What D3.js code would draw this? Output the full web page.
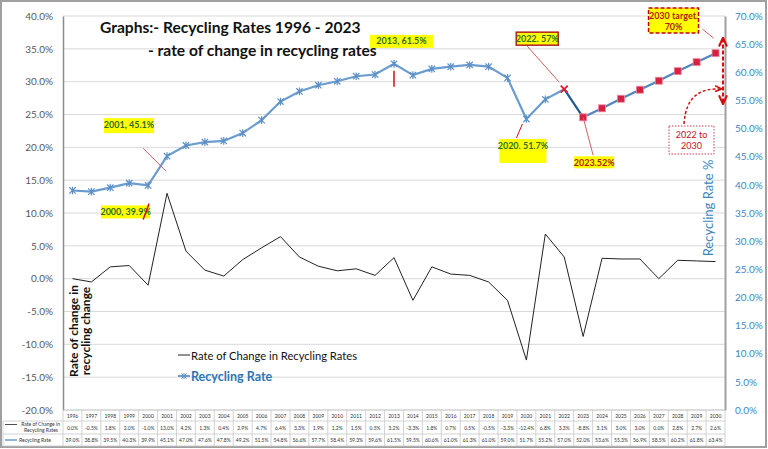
<!DOCTYPE html>
<html>
<head>
<meta charset="utf-8">
<script src="https://cdn.jsdelivr.net/npm/d3@7"></script>
<style>
  body { margin: 0; background: #fff; }
  svg { display: block; font-family: Lato, "Noto Sans", sans-serif; }
</style>
</head>
<body>
<svg id="chart" width="768" height="449"></svg>
<script>
const svg = d3.select('#chart');
const width = 768;
const height = 449;

// Data
const years = d3.range(1996, 2031);
const rateOfChange = [0.0, -0.5, 1.8, 2.0, -1.0, 13.0, 4.2, 1.3, 0.4, 2.9, 4.7, 6.4, 3.3, 1.9, 1.2, 1.5, 0.5, 3.2,
  -3.3, 1.8, 0.7, 0.5, -0.5, -3.3, -12.4, 6.8, 3.3, -8.8, 3.1, 3.0, 3.0, 0.0, 2.8, 2.7, 2.6];
const recyclingRate = [39.0, 38.8, 39.5, 40.3, 39.9, 45.1, 47.0, 47.6, 47.8, 49.2, 51.5, 54.8, 56.6, 57.7, 58.4,
  59.3, 59.6, 61.5, 59.5, 60.6, 61.0, 61.3, 61.0, 59.0, 51.7, 55.2, 57.0, 52.0, 53.6, 55.3, 56.9, 58.5, 60.2, 61.8, 63.4];
const leftTicks = d3.range(-20, 40.1, 5);
const rightTicks = d3.range(0, 70.1, 5);

// callouts: year, label, box offset from the point
const callouts = [
  { year: 2013, label: '2013, 61.5%', bx: -24, by: -29, w: 63, h: 13, color: '#2f6b2f' },
  { year: 2001, label: '2001, 45.1%', bx: -63, by: -38, w: 50, h: 15, color: '#2f6b2f' },
  { year: 2000, label: '2000, 39.9%', bx: -47, by: 20, w: 49, h: 13, color: '#2f6b2f' },
  { year: 2020, label: '2020. 51.7%', bx: -27, by: 20, w: 47, h: 24, color: '#2f6b2f' },
  { year: 2022, label: '2022. 57%', bx: -48, by: -57, w: 42, h: 13, color: '#2f6b2f', border: '#b02020' },
  { year: 2023, label: '2023.52%', bx: -9, by: 39, w: 40, h: 12, color: '#b01818' },
];

const plot = { left: 63, right: 725, top: 16, bottom: 410 };

const x = d3.scaleBand().domain(years).range([plot.left, plot.right]).padding(0);
const cx = (yr) => x(yr) + x.bandwidth() / 2;
const yL = d3.scaleLinear().domain([-20, 40]).range([plot.bottom, plot.top]);
const yR = d3.scaleLinear().domain([0, 70]).range([plot.bottom, plot.top]);

// outer frame
svg.append('rect').attr('x', 1).attr('y', 1).attr('width', width - 3).attr('height', height - 3)
  .attr('fill', 'none').attr('stroke', '#a0a0a0').attr('stroke-width', 2);

// gridlines
svg.append('g').selectAll('line').data(leftTicks).join('line')
  .attr('x1', plot.left).attr('x2', plot.right)
  .attr('y1', (d) => yL(d)).attr('y2', (d) => yL(d))
  .attr('stroke', '#d9d9d9').attr('stroke-width', 1);

// left axis
const gL = svg.append('g').attr('transform', `translate(${plot.left},0)`)
  .call(d3.axisLeft(yL).tickValues(leftTicks).tickSize(0).tickPadding(10).tickFormat((d) => d.toFixed(1) + '%'));
gL.select('.domain').attr('stroke', '#8c8c8c').attr('stroke-width', 1.5);
gL.selectAll('text').attr('fill', '#595959').attr('font-size', 10).attr('font-family', 'Lato, sans-serif');

// right axis
const gR = svg.append('g').attr('transform', `translate(${plot.right},0)`)
  .call(d3.axisRight(yR).tickValues(rightTicks).tickSize(0).tickPadding(10).tickFormat((d) => d.toFixed(1) + '%'));
gR.select('.domain').attr('stroke', '#a0a0a0').attr('stroke-width', 2);
gR.selectAll('text').attr('fill', '#3d87c0').attr('font-size', 10).attr('font-family', 'Lato, sans-serif');

// axis titles
svg.append('text').attr('transform', `translate(78,${331}) rotate(-90)`)
  .attr('text-anchor', 'middle').attr('font-size', 12).attr('font-weight', 'bold').attr('fill', '#111')
  .selectAll('tspan').data(['Rate of change in', 'recycling change']).join('tspan')
  .attr('x', 0).attr('dy', (d, i) => (i ? 12 : 0)).text((d) => d);
svg.append('text').attr('transform', `translate(713,208) rotate(-90)`)
  .attr('text-anchor', 'middle').attr('font-size', 13).attr('fill', '#3d87c0').text('Recycling Rate %');

// rate of change line
svg.append('path').datum(rateOfChange)
  .attr('d', d3.line().x((d, i) => cx(years[i])).y((d) => yL(d)))
  .attr('fill', 'none').attr('stroke', '#222').attr('stroke-width', 1);

// recycling rate line: history, 2022-23 drop, projection
const idx2022 = years.indexOf(2022);
const idx2023 = years.indexOf(2023);
const rrLine = d3.line().x((d) => cx(d.year)).y((d) => yR(d.v));
const rr = years.map((year, i) => ({ year, v: recyclingRate[i] }));
svg.append('path').datum(rr.slice(0, idx2022 + 1)).attr('d', rrLine)
  .attr('fill', 'none').attr('stroke', '#6a9ccf').attr('stroke-width', 2.2);
svg.append('path').datum(rr.slice(idx2022, idx2023 + 1)).attr('d', rrLine)
  .attr('fill', 'none').attr('stroke', '#1f5a96').attr('stroke-width', 2.2);
svg.append('path').datum(rr.slice(idx2023)).attr('d', rrLine)
  .attr('fill', 'none').attr('stroke', '#4f86c0').attr('stroke-width', 2.2);

const star = (r) => `M${-r},${-r}L${r},${r}M${-r},${r}L${r},${-r}M0,${-r * 1.2}L0,${r * 1.2}`;
svg.append('g').selectAll('path').data(rr.slice(0, idx2022)).join('path')
  .attr('transform', (d) => `translate(${cx(d.year)},${yR(d.v)})`)
  .attr('d', star(3.2)).attr('stroke', '#5b8fc6').attr('stroke-width', 1.2).attr('fill', 'none');
svg.append('path').datum(rr[idx2022])
  .attr('transform', (d) => `translate(${cx(d.year)},${yR(d.v)})`)
  .attr('d', 'M-3.5,-3.5L3.5,3.5M-3.5,3.5L3.5,-3.5').attr('stroke', '#e0202f').attr('stroke-width', 1.8);
svg.append('g').selectAll('rect').data(rr.slice(idx2023)).join('rect')
  .attr('x', (d) => cx(d.year) - 3.5).attr('y', (d) => yR(d.v) - 3.5)
  .attr('width', 7).attr('height', 7)
  .attr('fill', '#d42240').attr('stroke', '#f08aa0').attr('stroke-width', 0.8);

// title
svg.append('text').attr('x', 100).attr('y', 33).attr('font-size', 15.6).attr('font-weight', 'bold')
  .attr('fill', '#111').text('Graphs:- Recycling Rates 1996 - 2023');
svg.append('text').attr('x', 148).attr('y', 56).attr('font-size', 15.6).attr('font-weight', 'bold')
  .attr('fill', '#111').text('- rate of change in recycling rates');

// callouts
const cg = svg.append('g');
callouts.forEach((c) => {
  const i = years.indexOf(c.year);
  const px = cx(c.year);
  const py = yR(recyclingRate[i]);
  const bx = px + c.bx;
  const by = py + c.by;
  cg.append('rect').attr('x', bx).attr('y', by).attr('width', c.w).attr('height', c.h)
    .attr('fill', '#ffff00').attr('stroke', c.border || 'none').attr('stroke-width', 1.5);
  cg.append('text').attr('x', bx + c.w / 2).attr('y', by + 9.5).attr('text-anchor', 'middle')
    .attr('font-size', 9).attr('font-weight', 'bold').attr('fill', c.color).text(c.label);
});

// leader lines: year, x/y offsets of both ends from the point
const leaders = [
  [2013, 0, 7, 0, 23],
  [2001, -24, -8, -1, 15],
  [2000, 1, 18, -5, 34],
  [2020, -4, 5, -10, 19],
  [2022, -37, -43, -5, -7],
  [2023, 0, 0, 10, 38],
  [2030, -13, -24, -2, -15],
];
svg.append('g').selectAll('line').data(leaders).join('line')
  .attr('x1', (d) => cx(d[0]) + d[1]).attr('y1', (d) => yR(recyclingRate[years.indexOf(d[0])]) + d[2])
  .attr('x2', (d) => cx(d[0]) + d[3]).attr('y2', (d) => yR(recyclingRate[years.indexOf(d[0])]) + d[4])
  .attr('stroke', (d) => (d[0] === 2013 || d[0] === 2000 || d[0] === 2020 ? '#d01010' : '#d06060'))
  .attr('stroke-width', (d) => (d[0] === 2013 || d[0] === 2000 ? 1.5 : 1));

// 2030 target box
const tx = cx(2030) - 67;
const ty = 8;
svg.append('rect').attr('x', tx).attr('y', ty).attr('width', 50).attr('height', 25)
  .attr('fill', '#ffff00').attr('stroke', '#c00000').attr('stroke-width', 1.5).attr('stroke-dasharray', '4,2');
svg.append('text').attr('x', tx + 25).attr('y', ty + 10.5).attr('text-anchor', 'middle')
  .attr('font-size', 9).attr('font-weight', 'bold').attr('fill', '#b01818').text('2030 target.');
svg.append('text').attr('x', tx + 25).attr('y', ty + 21.5).attr('text-anchor', 'middle')
  .attr('font-size', 9).attr('font-weight', 'bold').attr('fill', '#b01818').text('70%');

// 2022 -> 2030 arrows
const defs = svg.append('defs');
defs.append('marker').attr('id', 'ah').attr('viewBox', '0 0 10 10').attr('refX', 8).attr('refY', 5)
  .attr('markerWidth', 5).attr('markerHeight', 5).attr('orient', 'auto-start-reverse')
  .append('path').attr('d', 'M0,1L9,5L0,9').attr('fill', 'none').attr('stroke', '#d01010').attr('stroke-width', 2);
svg.append('line').attr('x1', 723).attr('x2', 723).attr('y1', yR(66)).attr('y2', yR(54.5))
  .attr('stroke', '#d01010').attr('stroke-width', 2).attr('stroke-dasharray', '4,2')
  .attr('marker-start', 'url(#ah)').attr('marker-end', 'url(#ah)');
svg.append('path').attr('d', `M684,124 C686,96 700,88 721,89`)
  .attr('fill', 'none').attr('stroke', '#d01010').attr('stroke-width', 1.5).attr('stroke-dasharray', '3,2')
  .attr('marker-end', 'url(#ah)');
svg.append('rect').attr('x', 669).attr('y', 126).attr('width', 45).attr('height', 28)
  .attr('fill', '#fff').attr('stroke', '#d04050').attr('stroke-width', 1).attr('stroke-dasharray', '1.5,1.5');
svg.append('text').attr('x', 691.5).attr('y', 138).attr('text-anchor', 'middle')
  .attr('font-size', 9).attr('fill', '#c01020').text('2022 to');
svg.append('text').attr('x', 691.5).attr('y', 149).attr('text-anchor', 'middle')
  .attr('font-size', 9).attr('fill', '#c01020').text('2030');

// legend
const lg = svg.append('g').attr('transform', 'translate(178,355)');
lg.append('line').attr('x1', 0).attr('x2', 12).attr('stroke', '#222').attr('stroke-width', 1);
lg.append('text').attr('x', 13).attr('y', 4.5).attr('font-size', 11.2).attr('fill', '#111')
  .text('Rate of Change in Recycling Rates');
lg.append('line').attr('x1', 0).attr('x2', 12).attr('y1', 21).attr('y2', 21).attr('stroke', '#6a9ccf').attr('stroke-width', 2);
lg.append('path').attr('transform', 'translate(6,21)').attr('d', star(2.5)).attr('stroke', '#5b8fc6').attr('fill', 'none');
lg.append('text').attr('x', 13).attr('y', 25.5).attr('font-size', 12.5).attr('font-weight', 'bold')
  .attr('fill', '#2e75b6').text('Recycling Rate');

// data table
const rows = [
  { y0: 410, y1: 421 },
  { y0: 421, y1: 434 },
  { y0: 434, y1: 446 },
];
const tg = svg.append('g').attr('font-family', 'Lato, sans-serif');
tg.selectAll('line.h').data([410, 421, 434, 446]).join('line').attr('class', 'h')
  .attr('x1', (d, i) => (i === 0 ? plot.left : 3)).attr('x2', plot.right)
  .attr('y1', (d) => d).attr('y2', (d) => d).attr('stroke', '#c8c8c8').attr('stroke-width', 0.8);
tg.selectAll('line.v').data(years.concat([2031])).join('line').attr('class', 'v')
  .attr('x1', (d) => (d === 2031 ? plot.right : x(d))).attr('x2', (d) => (d === 2031 ? plot.right : x(d)))
  .attr('y1', 410).attr('y2', 446).attr('stroke', '#c8c8c8').attr('stroke-width', 0.8);
tg.append('line').attr('x1', 3).attr('x2', 3).attr('y1', 421).attr('y2', 446).attr('stroke', '#c8c8c8').attr('stroke-width', 0.8);
const rowVals = [years.map(String), rateOfChange.map((d) => d.toFixed(1) + '%'), recyclingRate.map((d) => d.toFixed(1) + '%')];
rowVals.forEach((vals, r) => {
  tg.selectAll(null).data(vals).join('text')
    .attr('x', (d, i) => cx(years[i])).attr('y', (rows[r].y0 + rows[r].y1) / 2 + 2)
    .attr('text-anchor', 'middle').attr('font-size', 5).attr('fill', '#333').text((d) => d);
});
tg.append('line').attr('x1', 5).attr('x2', 17).attr('y1', 424.5).attr('y2', 424.5).attr('stroke', '#222').attr('stroke-width', 0.8);
tg.append('text').attr('x', 60).attr('y', 426).attr('text-anchor', 'end').attr('font-size', 5).attr('fill', '#333')
  .text('Rate of Change in');
tg.append('text').attr('x', 58).attr('y', 432).attr('text-anchor', 'end').attr('font-size', 5).attr('fill', '#333')
  .text('Recycling Rates');
tg.append('line').attr('x1', 5).attr('x2', 17).attr('y1', 440).attr('y2', 440).attr('stroke', '#6a9ccf').attr('stroke-width', 1.5);
tg.append('text').attr('x', 51).attr('y', 442).attr('text-anchor', 'end').attr('font-size', 5).attr('fill', '#333')
  .text('Recycling Rate');
</script>
</body>
</html>
